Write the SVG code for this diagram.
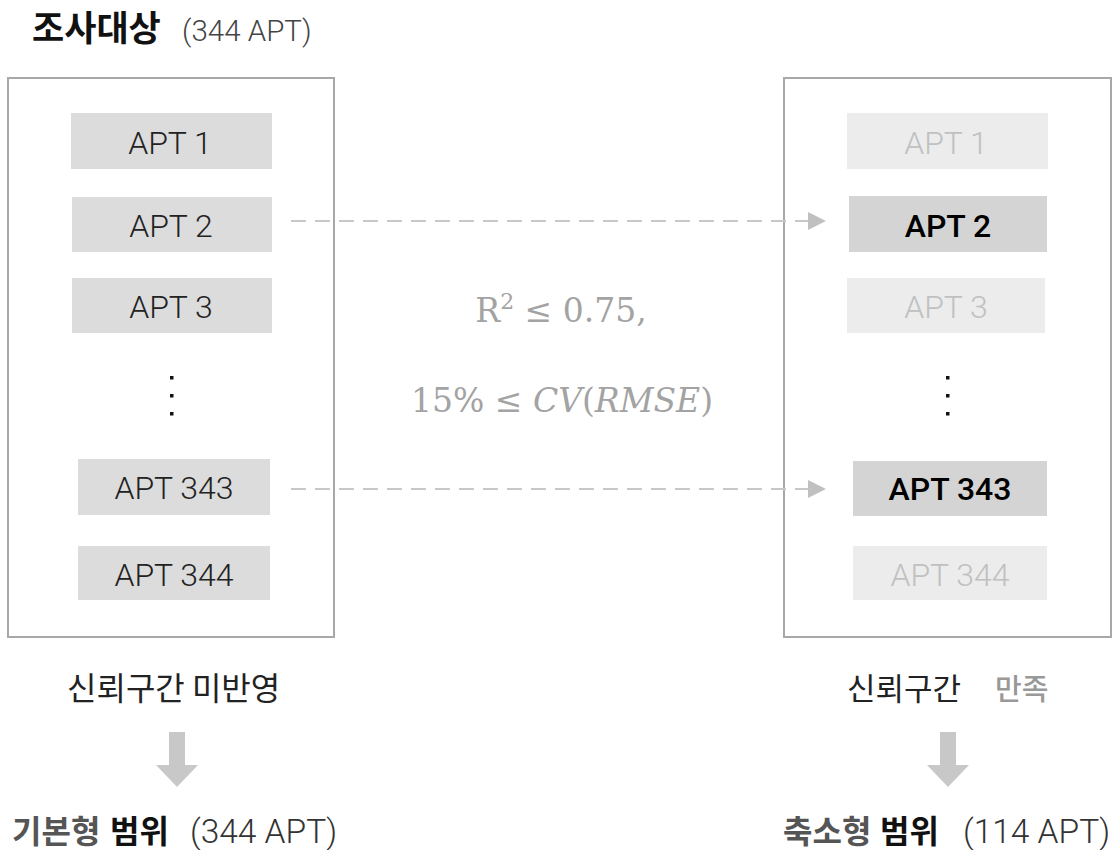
<svg xmlns="http://www.w3.org/2000/svg" width="1118" height="850" viewBox="0 0 1118 850">
<style>
.kr{font-family:"Noto Sans CJK KR",sans-serif}
.lat{font-family:Roboto,"Liberation Sans",sans-serif}
.frame{fill:#fff;stroke:#a8a8a8;stroke-width:2}
.boxL{fill:#dcdcdc}
.boxOn{fill:#d4d4d4}
.boxOff{fill:#ececec}
.apt{font-family:Roboto,"Liberation Sans",sans-serif;font-size:32px;font-weight:300;text-anchor:middle;fill:#222}
.on{fill:#000;font-weight:500}
.off{fill:#c0c0c0}
.dash{stroke:#c8c8c8;stroke-width:2;stroke-dasharray:15 9;fill:none}
.math{font-family:"DejaVu Serif","Liberation Serif",serif;font-size:33px;fill:#a3a3a3;text-anchor:middle}
.dot{fill:#111}
.down{fill:#c8c8c8}
</style>
<defs>
<marker id="tri" markerUnits="userSpaceOnUse" markerWidth="18" markerHeight="18" refX="0" refY="9" orient="auto">
<polygon points="0,0 18,9 0,18" fill="#c0c0c0"/>
</marker>
</defs>

<g id="title">
<text class="kr" x="32" y="41" font-size="35" font-weight="700" fill="#111">조사대상</text>
<text class="lat" x="182" y="41" font-size="29.5" font-weight="300" fill="#444">(344 APT)</text>
</g>

<g id="left-panel">
<rect class="frame" x="8" y="78" width="326" height="559"/>
<g id="L-apt1"><rect class="boxL" x="71" y="113" width="201" height="56"/><text class="apt" x="170" y="154">APT 1</text></g>
<g id="L-apt2"><rect class="boxL" x="72" y="197" width="200" height="55"/><text class="apt" x="171" y="237">APT 2</text></g>
<g id="L-apt3"><rect class="boxL" x="72" y="278" width="200" height="55"/><text class="apt" x="171" y="318">APT 3</text></g>
<g id="L-dots"><rect class="dot" x="170" y="376" width="3.5" height="3.5"/><rect class="dot" x="170" y="394" width="3.5" height="3.5"/><rect class="dot" x="170" y="412" width="3.5" height="3.5"/></g>
<g id="L-apt343"><rect class="boxL" x="78" y="459" width="192" height="56"/><text class="apt" x="174" y="499">APT 343</text></g>
<g id="L-apt344"><rect class="boxL" x="78" y="546" width="192" height="54"/><text class="apt" x="174" y="586">APT 344</text></g>
</g>

<g id="right-panel">
<rect class="frame" x="784" y="78" width="327" height="559"/>
<g id="R-apt1"><rect class="boxOff" x="847" y="113" width="201" height="56"/><text class="apt off" x="946" y="154">APT 1</text></g>
<g id="R-apt2"><rect class="boxOn" x="849" y="196" width="198" height="56"/><text class="apt on" x="948" y="237">APT 2</text></g>
<g id="R-apt3"><rect class="boxOff" x="847" y="278" width="198" height="55"/><text class="apt off" x="946" y="318">APT 3</text></g>
<g id="R-dots"><rect class="dot" x="946" y="376" width="3.5" height="3.5"/><rect class="dot" x="946" y="394" width="3.5" height="3.5"/><rect class="dot" x="946" y="412" width="3.5" height="3.5"/></g>
<g id="R-apt343"><rect class="boxOn" x="853" y="461" width="194" height="55"/><text class="apt on" x="950" y="500">APT 343</text></g>
<g id="R-apt344"><rect class="boxOff" x="853" y="546" width="194" height="54"/><text class="apt off" x="950" y="586">APT 344</text></g>
</g>

<g id="connectors">
<line class="dash" x1="291" y1="221" x2="808" y2="221" marker-end="url(#tri)"/>
<line class="dash" x1="291" y1="489" x2="808" y2="489" marker-end="url(#tri)"/>
<polygon class="down" points="169,732 185,732 185,765 198,765 177,787 156,765 169,765"/>
<polygon class="down" points="940,732 956,732 956,765 969,765 948,787 927,765 940,765"/>
</g>

<g id="condition">
<text class="math" x="561" y="322">R<tspan font-size="22" dy="-13">2</tspan><tspan dy="13"> ≤ 0.75,</tspan></text>
<text class="math" x="562" y="412">15% ≤ <tspan font-style="italic">CV</tspan>(<tspan font-style="italic">RMSE</tspan>)</text>
</g>

<g id="left-label">
<text class="kr" x="67" y="700" font-size="32" fill="#222">신뢰구간 미반영</text>
</g>
<g id="right-label">
<text class="kr" x="847" y="700" font-size="31" fill="#222">신뢰구간</text>
<text class="kr" x="995" y="700" font-size="29" font-weight="500" fill="#999">만족</text>
</g>

<g id="left-result">
<text class="kr" x="12" y="843" font-size="32" font-weight="700" fill="#555">기본형</text>
<text class="kr" x="110" y="843" font-size="32" font-weight="700" fill="#111">범위</text>
<text class="lat" x="190" y="843" font-size="33.5" font-weight="300" fill="#333">(344 APT)</text>
</g>
<g id="right-result">
<text class="kr" x="783" y="843" font-size="32" font-weight="700" fill="#555">축소형</text>
<text class="kr" x="880" y="843" font-size="32" font-weight="700" fill="#111">범위</text>
<text class="lat" x="963" y="843" font-size="33.5" font-weight="300" fill="#333">(114 APT)</text>
</g>
</svg>
